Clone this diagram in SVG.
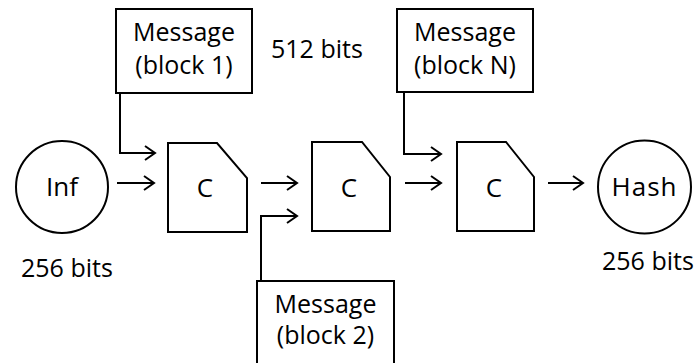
<svg xmlns="http://www.w3.org/2000/svg" width="694" height="363" viewBox="0 0 694 363">
  <style>
    .shape { fill: #ffffff; stroke: #000000; stroke-width: 2; }
    .line { fill: none; stroke: #000000; stroke-width: 2; }
    .label { font-family: "Open Sans", "Noto Sans", sans-serif; font-size: 25px; fill: #000000; }
    .big { font-size: 26px; }
    .mid { text-anchor: middle; }
  </style>
  <defs>
    <marker id="arrow" markerUnits="userSpaceOnUse" markerWidth="14" markerHeight="18" viewBox="-12 -9 14 18" refX="0" refY="0" orient="auto">
      <path d="M-10,-7 L0,0 L-10,7" fill="none" stroke="#000000" stroke-width="2"/>
    </marker>
  </defs>
  <rect width="694" height="363" fill="#ffffff"/>

  <!-- connectors -->
  <g id="connectors">
    <line class="line" x1="117" y1="183" x2="154" y2="183" marker-end="url(#arrow)"/>
    <polyline class="line" points="120,93 120,153 155,153" marker-end="url(#arrow)"/>
    <line class="line" x1="261" y1="183" x2="297" y2="183" marker-end="url(#arrow)"/>
    <polyline class="line" points="261,281 261,216 297,216" marker-end="url(#arrow)"/>
    <line class="line" x1="405" y1="183" x2="441" y2="183" marker-end="url(#arrow)"/>
    <polyline class="line" points="404,92 404,154 441,154" marker-end="url(#arrow)"/>
    <line class="line" x1="548" y1="183" x2="583" y2="183" marker-end="url(#arrow)"/>
  </g>

  <!-- initial value -->
  <g id="inf">
    <circle class="shape" cx="62" cy="187" r="46"/>
    <text class="label big mid" x="62" y="196">Inf</text>
  </g>

  <!-- compression stages -->
  <g id="c1">
    <polygon class="shape" points="168,143 217,143 247,178 247,232 168,232"/>
    <text class="label big mid" x="205" y="197">C</text>
  </g>
  <g id="c2">
    <polygon class="shape" points="312,142 362,142 390,177 390,231 312,231"/>
    <text class="label big mid" x="349" y="197">C</text>
  </g>
  <g id="c3">
    <polygon class="shape" points="457,142 506,142 534,177 534,231 457,231"/>
    <text class="label big mid" x="494" y="197">C</text>
  </g>

  <!-- output -->
  <g id="hash">
    <circle class="shape" cx="644.5" cy="187" r="46.5"/>
    <text class="label big mid" x="644.5" y="196" letter-spacing="1">Hash</text>
  </g>

  <!-- message blocks -->
  <g id="msg1">
    <rect class="shape" x="116" y="9" width="136" height="84"/>
    <text class="label mid" x="184" y="41">Message</text>
    <text class="label mid" x="184" y="74">(block 1)</text>
  </g>
  <g id="msg2">
    <rect class="shape" x="257" y="281" width="137" height="90"/>
    <text class="label mid" x="325.5" y="313">Message</text>
    <text class="label mid" x="325.5" y="344">(block 2)</text>
  </g>
  <g id="msgN">
    <rect class="shape" x="397" y="9" width="136" height="83"/>
    <text class="label mid" x="465" y="41">Message</text>
    <text class="label mid" x="465" y="74">(block N)</text>
  </g>

  <!-- sizes -->
  <g id="sizes">
    <text class="label" x="271" y="58">512 bits</text>
    <text class="label" x="21" y="277">256 bits</text>
    <text class="label" x="602" y="270">256 bits</text>
  </g>
</svg>
